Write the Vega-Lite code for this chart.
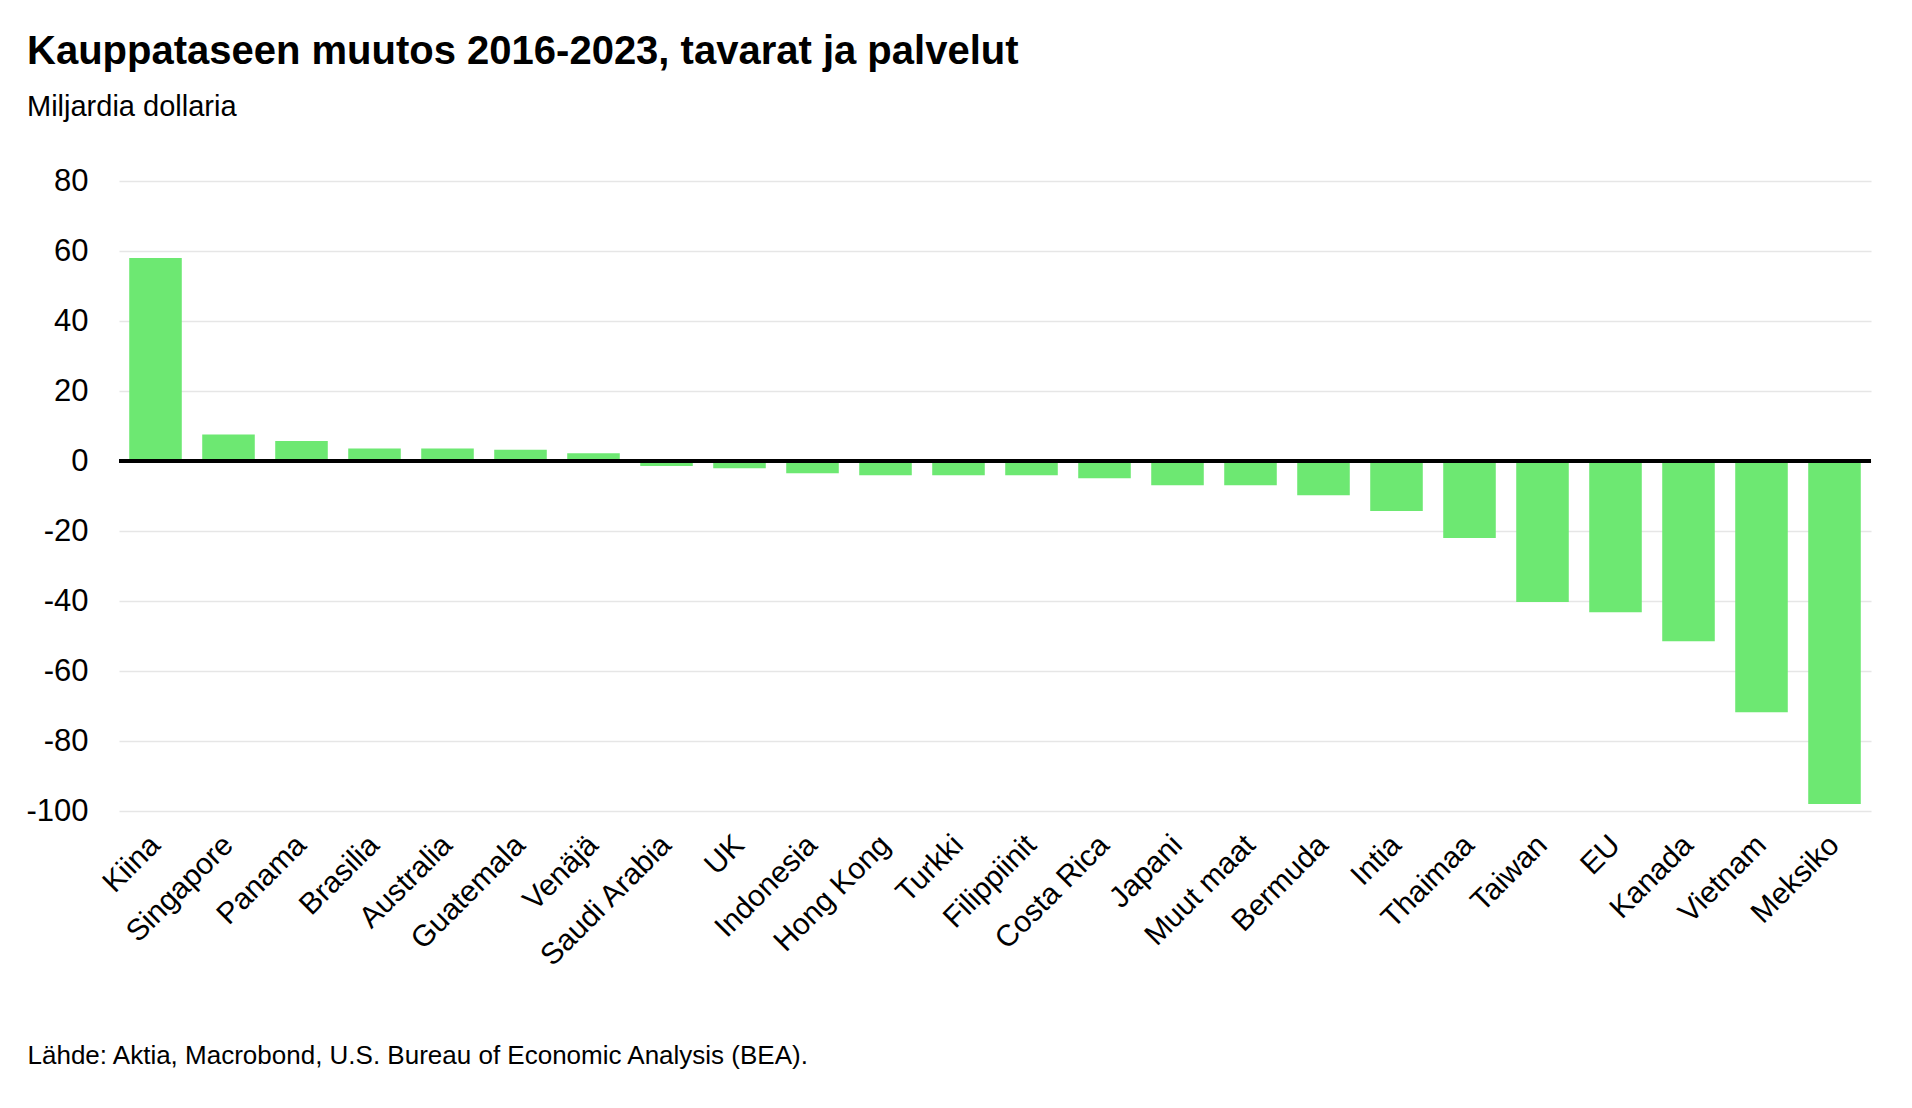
{
  "$schema": "https://vega.github.io/schema/vega-lite/v6.json",
  "width": 1752,
  "height": 630,
  "autosize": {"type": "none"},
  "padding": {"left": 119, "top": 181, "right": 41, "bottom": 297},
  "background": "white",
  "config": {
    "view": {"stroke": null},
    "font": "Liberation Sans"
  },
  "title": {
    "text": "Kauppataseen muutos 2016-2023, tavarat ja palvelut",
    "subtitle": "Miljardia dollaria",
    "anchor": "start",
    "frame": "group",
    "dx": -92,
    "offset": 43,
    "font": "Liberation Sans",
    "fontSize": 40,
    "fontWeight": "bold",
    "color": "#000000",
    "subtitleFont": "Liberation Sans",
    "subtitleFontSize": 29,
    "subtitleColor": "#000000",
    "subtitlePadding": 21
  },
  "data": {
    "values": [
      {"maa": "Kiina", "arvo": 58.0},
      {"maa": "Singapore", "arvo": 7.6},
      {"maa": "Panama", "arvo": 5.7},
      {"maa": "Brasilia", "arvo": 3.6},
      {"maa": "Australia", "arvo": 3.6},
      {"maa": "Guatemala", "arvo": 3.2},
      {"maa": "Venäjä", "arvo": 2.2},
      {"maa": "Saudi Arabia", "arvo": -1.4},
      {"maa": "UK", "arvo": -2.1},
      {"maa": "Indonesia", "arvo": -3.5},
      {"maa": "Hong Kong", "arvo": -4.1},
      {"maa": "Turkki", "arvo": -4.1},
      {"maa": "Filippiinit", "arvo": -4.1},
      {"maa": "Costa Rica", "arvo": -4.9},
      {"maa": "Japani", "arvo": -6.9},
      {"maa": "Muut maat", "arvo": -6.9},
      {"maa": "Bermuda", "arvo": -9.8},
      {"maa": "Intia", "arvo": -14.3},
      {"maa": "Thaimaa", "arvo": -22.0},
      {"maa": "Taiwan", "arvo": -40.3},
      {"maa": "EU", "arvo": -43.2},
      {"maa": "Kanada", "arvo": -51.5},
      {"maa": "Vietnam", "arvo": -71.8},
      {"maa": "Meksiko", "arvo": -98.0}
    ]
  },
  "layer": [
    {
      "mark": {"type": "bar", "color": "#6de872"},
      "encoding": {
        "x": {
          "field": "maa",
          "type": "nominal",
          "sort": null,
          "scale": {"paddingInner": 0.28, "paddingOuter": 0.14},
          "axis": {
            "domain": false,
            "ticks": false,
            "labelAngle": -45,
            "labelAlign": "right",
            "labelBaseline": "middle",
            "labelFontSize": 30,
            "labelColor": "#000000",
            "labelPadding": 29,
            "title": "Lähde: Aktia, Macrobond, U.S. Bureau of Economic Analysis (BEA).",
            "titleFontSize": 26,
            "titleFontWeight": "normal",
            "titleColor": "#000000",
            "titleAnchor": "start",
            "titleAlign": "left",
            "titleBaseline": "alphabetic",
            "titleX": -92,
            "titleY": 252
          }
        },
        "y": {
          "field": "arvo",
          "type": "quantitative",
          "scale": {"domain": [-100, 80], "nice": false},
          "axis": {
            "values": [-100, -80, -60, -40, -20, 0, 20, 40, 60, 80],
            "labelExpr": "toString(datum.value)",
            "domain": false,
            "ticks": false,
            "title": null,
            "labelFontSize": 31,
            "labelColor": "#000000",
            "labelPadding": 31,
            "gridColor": "#e6e6e6",
            "gridWidth": 1.5
          }
        }
      }
    },
    {
      "mark": {"type": "rule", "color": "#000000", "strokeWidth": 3},
      "encoding": {"y": {"datum": 0}}
    }
  ]
}
